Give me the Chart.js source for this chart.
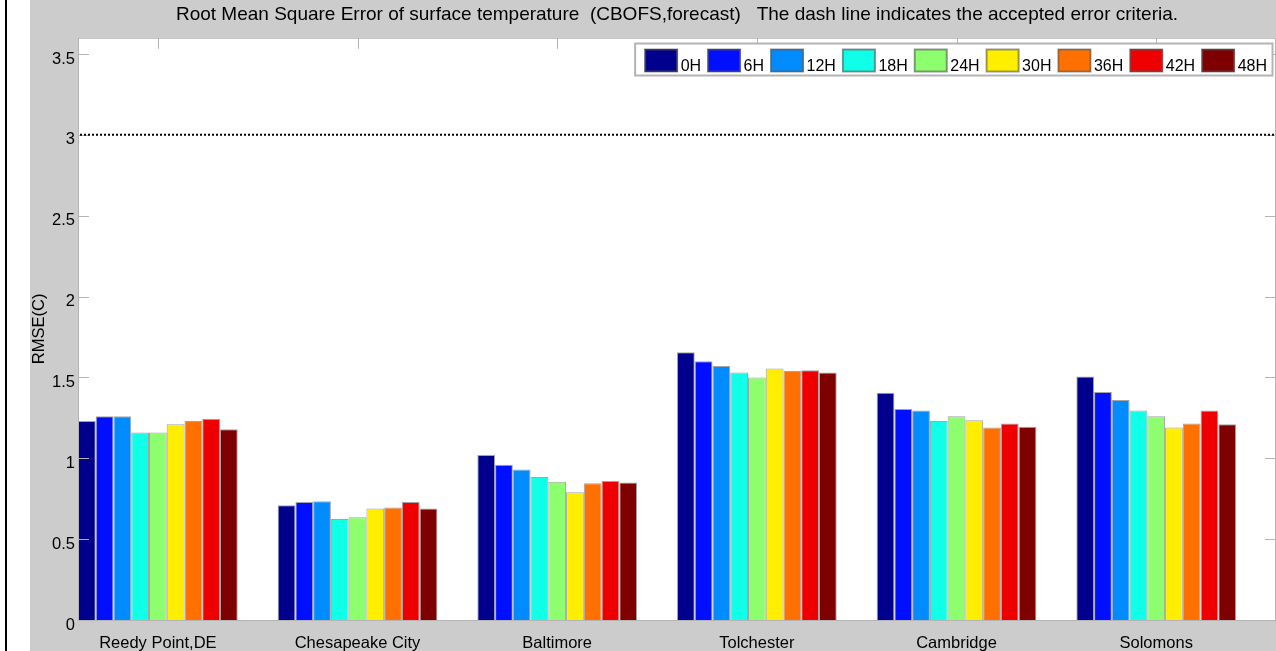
<!DOCTYPE html>
<html>
<head>
<meta charset="utf-8">
<script src="https://cdn.jsdelivr.net/npm/chart.js@4.4.0/dist/chart.umd.min.js"></script>
<style>
  html, body { margin: 0; padding: 0; background: #fff; }
  #page { position: relative; width: 1276px; height: 651px; overflow: hidden; }
  #rule { position: absolute; left: 5px; top: 0; width: 2px; height: 651px; background: #000; }
  #wrap { position: absolute; left: 30px; top: 0; width: 1246px; height: 651px; background: #cccccc; }
</style>
</head>
<body>
<div id="page">
  <div id="rule"></div>
  <div id="wrap"><canvas id="grafico" width="1246" height="651"></canvas></div>
</div>
<script>
// estaciones y horas de pronostico
const estaciones = ["Reedy Point,DE", "Chesapeake City", "Baltimore", "Tolchester", "Cambridge", "Solomons"];
const horas = ["0H", "6H", "12H", "18H", "24H", "30H", "36H", "42H", "48H"];
const colores = ["#00008c", "#0010ff", "#008cff", "#10ffe8", "#8dff6e", "#ffee00", "#ff7000", "#ee0000", "#7f0000"];

// RMSE por hora de pronostico (una entrada por estacion)
const rmse0H  = [1.23,  0.71,  1.02,  1.655, 1.405, 1.505];
const rmse6H  = [1.26,  0.73,  0.96,  1.60,  1.305, 1.41];
const rmse12H = [1.26,  0.735, 0.93,  1.57,  1.295, 1.36];
const rmse18H = [1.16,  0.625, 0.885, 1.53,  1.23,  1.295];
const rmse24H = [1.16,  0.635, 0.855, 1.50,  1.26,  1.26];
const rmse30H = [1.21,  0.69,  0.79,  1.555, 1.235, 1.19];
const rmse36H = [1.23,  0.695, 0.845, 1.54,  1.19,  1.215];
const rmse42H = [1.245, 0.73,  0.86,  1.545, 1.215, 1.295];
const rmse48H = [1.18,  0.69,  0.85,  1.53,  1.195, 1.21];

const marcasY = [0, 0.5, 1, 1.5, 2, 2.5, 3, 3.5];
const criterio = 3;

const series = [rmse0H, rmse6H, rmse12H, rmse18H, rmse24H, rmse30H, rmse36H, rmse42H, rmse48H];
const familia = "'Liberation Sans', Arial, sans-serif";
const fuente = { family: familia, size: 16.5 };

const marcoMatlab = {
  id: "marcoMatlab",
  beforeDraw(chart) {
    const { ctx, chartArea: a } = chart;
    ctx.save();
    ctx.fillStyle = "#fff";
    ctx.fillRect(a.left, a.top, a.right - a.left, a.bottom - a.top);
    ctx.restore();
  },
  afterDatasetsDraw(chart) {
    const { ctx, chartArea: a, scales } = chart;
    ctx.save();

    // marco y marcas hacia adentro
    ctx.strokeStyle = "#b4b4b4";
    ctx.lineWidth = 1;
    ctx.strokeRect(a.left + 0.5, a.top + 0.5, a.right - a.left - 1, a.bottom - a.top);
    ctx.beginPath();
    scales.y.ticks.forEach(t => {
      const y = Math.round(scales.y.getPixelForValue(t.value)) + 0.5;
      ctx.moveTo(a.left, y); ctx.lineTo(a.left + 11, y);
      ctx.moveTo(a.right - 11, y); ctx.lineTo(a.right, y);
    });
    scales.x.ticks.forEach(t => {
      const x = Math.round(scales.x.getPixelForValue(t.value)) + 0.5;
      ctx.moveTo(x, a.top); ctx.lineTo(x, a.top + 11);
    });
    ctx.stroke();

    // linea de criterio de error aceptado
    const yc = scales.y.getPixelForValue(criterio);
    ctx.strokeStyle = "#000";
    ctx.lineWidth = 2;
    ctx.setLineDash([2, 2]);
    ctx.beginPath();
    ctx.moveTo(a.left + 2, yc); ctx.lineTo(a.right, yc);
    ctx.stroke();
    ctx.setLineDash([]);

    // leyenda
    ctx.font = "16px " + familia;
    const sw = 33, sh = 23, gapTxt = 3, gapItem = 6.5;
    let ancho = 0;
    horas.forEach((h, i) => {
      ancho += sw + gapTxt + ctx.measureText(h).width;
      if (i < horas.length - 1) ancho += gapItem;
    });
    const right = a.right - 3, boxW = ancho + 10 + 6;
    const left = right - boxW, top = 43, boxH = 33;
    ctx.fillStyle = "#fff";
    ctx.fillRect(left, top, boxW, boxH);
    ctx.strokeStyle = "#b4b4b4";
    ctx.strokeRect(left + 0.5, top + 0.5, boxW - 1, boxH - 1);
    let x = left + 10;
    chart.data.datasets.forEach(ds => {
      ctx.fillStyle = ds.backgroundColor;
      ctx.fillRect(x, top + 6, sw, sh);
      ctx.strokeStyle = "rgba(90,90,90,0.6)";
      ctx.strokeRect(x + 0.5, top + 6.5, sw - 1, sh - 1);
      x += sw + gapTxt;
      ctx.fillStyle = "#000";
      ctx.textBaseline = "alphabetic";
      ctx.fillText(ds.label, x, top + 28);
      x += ctx.measureText(ds.label).width + gapItem;
    });
    ctx.restore();
  }
};

new Chart(document.getElementById("grafico"), {
  type: "bar",
  data: {
    datasets: horas.map((h, i) => ({
      label: h,
      data: series[i].map((v, j) => ({ x: j + 1, y: v })),
      backgroundColor: colores[i],
      borderColor: "rgba(90,90,90,0.55)",
      borderWidth: 1,
      categoryPercentage: 0.8,
      barPercentage: 1
    }))
  },
  options: {
    responsive: false,
    animation: false,
    devicePixelRatio: 1,
    layout: { padding: 0 },
    plugins: {
      legend: { display: false },
      tooltip: { enabled: false },
      title: {
        display: true,
        text: "Root Mean Square Error of surface temperature  (CBOFS,forecast)   The dash line indicates the accepted error criteria.",
        fullSize: false,
        color: "#000",
        font: { family: familia, size: 19, weight: "normal" },
        padding: { top: 3, bottom: 12 }
      }
    },
    scales: {
      x: {
        type: "linear",
        min: 0.6,
        max: 6.6,
        offset: false,
        grid: { display: false, drawTicks: false },
        border: { display: false },
        ticks: {
          font: fuente, color: "#000", padding: 14, autoSkip: false, maxRotation: 0,
          callback: v => estaciones[v - 1]
        },
        afterBuildTicks: s => { s.ticks = estaciones.map((e, i) => ({ value: i + 1 })); },
        afterFit: s => { s.height = 31; }
      },
      y: {
        min: 0,
        max: 3.6,
        grid: { display: false, drawTicks: false },
        border: { display: false },
        ticks: { font: fuente, color: "#000", padding: 3, labelOffset: 5, callback: v => String(v) },
        afterBuildTicks: s => { s.ticks = marcasY.map(v => ({ value: v })); },
        title: { display: true, text: "RMSE(C)", color: "#000", font: fuente, padding: { top: 0, bottom: 0 } },
        afterFit: s => { s.width = 48; }
      }
    }
  },
  plugins: [marcoMatlab]
});
</script>
</body>
</html>
